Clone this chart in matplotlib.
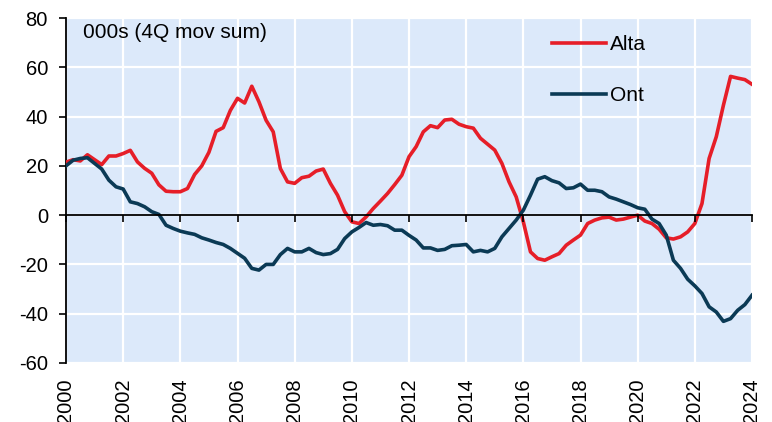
import numpy as np
import matplotlib
matplotlib.use("Agg")
import matplotlib.pyplot as plt

plt.rcParams['font.family'] = ['Liberation Sans', 'DejaVu Sans']
plt.rcParams['axes.unicode_minus'] = False

# quarterly, 2000Q1 .. 2024Q1 (4Q moving sum, thousands)
alta = [21.5, 22.5, 22, 24.5,
        22.5, 20.5, 24, 24,
        25, 26.3, 21.6, 19,
        17, 12.3, 9.7, 9.5,
        9.5, 10.8, 16.5, 20,
        25.5, 34, 35.5, 42.5,
        47.4, 45.5, 52.3, 46,
        38.5, 33.8, 18.9, 13.5,
        12.9, 15.2, 15.8, 17.9,
        18.7, 12.9, 8.1, 1.4,
        -2.7, -3.4, -0.7, 2.7,
        5.7, 8.8, 12.4, 16.2,
        23.7, 27.8, 33.8, 36.3,
        35.5, 38.6, 38.9, 36.9,
        35.9, 35.3, 31.2, 28.8,
        26.4, 21, 13.5, 7.4,
        -2.7, -14.9, -17.6, -18.3,
        -16.9, -15.6, -12.2, -10.1,
        -8.1, -3.4, -2, -1.1,
        -0.8, -2, -1.6, -0.8,
        0, -2.4, -3.4, -5.7,
        -9.2, -9.7, -8.8, -6.8,
        -3.4, 4.7, 23, 31.8,
        44.6, 56.3, 55.6, 55,
        53.1]
ont = [20, 22.3, 23, 23.3,
       21, 18.7, 14.2, 11.5,
       10.6, 5.4, 4.7, 3.4,
       1.4, 0.3, -4.1, -5.4,
       -6.5, -7.2, -7.8, -9.2,
       -10.1, -11.1, -11.9, -13.5,
       -15.5, -17.5, -21.6, -22.3,
       -20, -20, -16, -13.5,
       -14.9, -14.9, -13.5, -15.2,
       -16, -15.6, -13.9, -9.5,
       -6.8, -5, -3, -4.1,
       -3.8, -4.3, -6.1, -6.1,
       -8.2, -10.1, -13.3, -13.3,
       -14.3, -13.9, -12.4, -12.2,
       -11.9, -14.9, -14.3, -14.9,
       -13.5, -8.8, -5.4, -2,
       2, 8.1, 14.6, 15.6,
       14, 13.1, 10.8, 11.1,
       12.6, 10.1, 10.1, 9.5,
       7.4, 6.5, 5.4, 4.3,
       3, 2.4, -1.6, -3.4,
       -8.1, -18.3, -21.6, -26,
       -28.7, -31.8, -37.2, -39.3,
       -43.1, -42, -38.6, -36.3,
       -32.5]
dates = 2000 + np.arange(len(alta)) * 0.25
year_ticks = list(range(2000, 2025, 2))
y_ticks = list(range(-60, 81, 20))

rect = [66/772, 1 - 363/422, 686/772, 345/422]
fig = plt.figure(figsize=(7.72, 4.22), dpi=100)
ax = fig.add_axes(rect)
ax.set_facecolor('#DCE9FA')

ax.plot(dates, alta, color='#E61E28', lw=2.6, label='Alta', zorder=3)
ax.plot(dates, ont, color='#0B3A55', lw=2.6, label='Ont', zorder=3)

ax.set_xlim(2000, 2024)
ax.set_ylim(-60, 80)
ax.set_xticks(year_ticks)
ax.set_xticklabels([str(y) for y in year_ticks], rotation=90, fontsize=14.5)
ax.set_yticks(y_ticks)
ax.set_yticklabels([str(v) for v in y_ticks], fontsize=14.5)
ax.tick_params(axis='x', length=0, pad=11)
ax.tick_params(axis='y', length=5, width=1.2, pad=8, direction='out')
ax.grid(True, color='white', lw=1.6, zorder=1)
ax.set_axisbelow(True)

for s in ['top', 'right', 'bottom']:
    ax.spines[s].set_visible(False)
ax.spines['left'].set_linewidth(1.3)

# zero line with tick marks (overlay axes)
ax0 = fig.add_axes(rect, sharex=ax, sharey=ax)
ax0.patch.set_visible(False)
for s in ['top', 'right', 'left']:
    ax0.spines[s].set_visible(False)
ax0.spines['bottom'].set_position(('data', 0))
ax0.spines['bottom'].set_linewidth(1.3)
ax0.tick_params(axis='x', direction='out', length=5, width=1.2, labelbottom=False)
ax0.tick_params(axis='y', left=False, labelleft=False)

ax.text(0.025, 0.958, '000s (4Q mov sum)', transform=ax.transAxes,
        fontsize=15, va='center', ha='left')

ax.legend(loc='upper left', bbox_to_anchor=(0.708, 0.951), frameon=False,
          fontsize=15, handlelength=2.6, handletextpad=0.2, labelspacing=1.56,
          borderpad=0, borderaxespad=0)

fig.savefig('out.png', dpi=100)
